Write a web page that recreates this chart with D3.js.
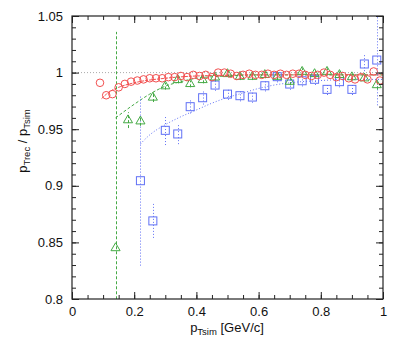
<!DOCTYPE html>
<html>
<head>
<meta charset="utf-8">
<script src="https://cdn.jsdelivr.net/npm/d3@7"></script>
<style>
  body { margin: 0; background: #fff; }
  text { font-family: "Liberation Sans", Arial, sans-serif; }
</style>
</head>
<body>
<div id="chart"></div>
<script>
// Ticks
const xTicks = [0, 0.2, 0.4, 0.6, 0.8, 1];
const yTicks = [0.8, 0.85, 0.9, 0.95, 1, 1.05];

// Red circles
const redX = [0.09, 0.11, 0.13, 0.15, 0.17, 0.19, 0.21, 0.23, 0.25, 0.27, 0.29, 0.31, 0.33, 0.35, 0.37, 0.39,
  0.41, 0.43, 0.45, 0.47, 0.49, 0.51, 0.53, 0.55, 0.57, 0.59, 0.61, 0.63, 0.65, 0.67, 0.69, 0.71, 0.73,
  0.75, 0.77, 0.79, 0.81, 0.83, 0.85, 0.87, 0.89, 0.91, 0.93, 0.95, 0.97, 0.99];
const redY = [0.991, 0.980, 0.981, 0.987, 0.990, 0.992, 0.993, 0.994, 0.995, 0.995, 0.995, 0.996, 0.996, 0.997, 0.996, 0.998,
  0.997, 0.998, 0.996, 1.000, 1.000, 0.999, 0.997, 0.998, 0.999, 0.998, 0.998, 0.999, 0.998, 0.999, 0.998, 0.999, 0.999,
  0.998, 0.997, 0.998, 1.000, 0.998, 0.996, 0.997, 0.995, 0.994, 0.996, 0.994, 1.001, 0.993];

// Green triangles
const greenX = [0.14, 0.18, 0.22, 0.26, 0.30, 0.34, 0.38, 0.42, 0.46, 0.50, 0.54, 0.58, 0.62, 0.66, 0.70, 0.74,
  0.78, 0.82, 0.86, 0.90, 0.94, 0.98];
const greenY = [0.845, 0.958, 0.957, 0.978, 0.988, 0.9935, 0.990, 0.9935, 0.9958, 0.9988, 0.9964, 0.9964, 0.998, 0.9964,
  0.992, 1.0008, 0.9988, 1.0008, 0.998, 0.996, 0.995, 0.989];
const greenErr = [0.191, 0.007, 0.004, 0.004, 0.003, 0.003, 0.003, 0.003, 0.003, 0.003, 0.003, 0.003, 0.003, 0.003,
  0.003, 0.003, 0.003, 0.003, 0.003, 0.003, 0.003, 0.004];

// Blue squares
const blueX = [0.22, 0.26, 0.30, 0.34, 0.38, 0.42, 0.46, 0.50, 0.54, 0.58, 0.62, 0.66, 0.70, 0.74, 0.78, 0.82,
  0.86, 0.90, 0.94, 0.98];
const blueY = [0.9045, 0.869, 0.949, 0.9458, 0.9699, 0.9778, 0.989, 0.981, 0.9796, 0.9784, 0.9884, 0.9964, 0.9899,
  0.9928, 0.9941, 0.9852, 0.992, 0.9852, 1.0076, 1.0111];
const blueErr = [0.075, 0.015, 0.013, 0.009, 0.006, 0.006, 0.005, 0.005, 0.005, 0.005, 0.005, 0.005, 0.005, 0.005,
  0.005, 0.005, 0.005, 0.005, 0.009, 0.04];

// Fit curves
const redFitX = [0.095, 0.12, 0.15, 0.2, 0.3, 0.4, 0.6, 0.8, 1.0];
const redFitY = [0.977, 0.983, 0.987, 0.991, 0.995, 0.997, 0.998, 0.998, 0.998];
const greenFitX = [0.14, 0.2, 0.25, 0.3, 0.35, 0.4, 0.5, 0.6, 0.8, 1.0];
const greenFitY = [0.960, 0.972, 0.981, 0.988, 0.992, 0.995, 0.997, 0.998, 0.998, 0.998];
const blueFitX = [0.22, 0.25, 0.3, 0.35, 0.4, 0.45, 0.5, 0.55, 0.6, 0.65, 0.7, 0.8, 0.9, 1.0];
const blueFitY = [0.937, 0.945, 0.954, 0.961, 0.967, 0.973, 0.978, 0.982, 0.986, 0.989, 0.991, 0.993, 0.994, 0.994];

const w = 407, h = 342;
const padL = 72, padR = 383, padT = 16, padB = 299;

const red = "#f25050", green = "#45aa45", blue = "#6070f5";

const svg = d3.select("#chart").append("svg")
    .attr("width", w)
    .attr("height", h);

const x = d3.scaleLinear().domain([0, 1]).range([padL, padR]);
const y = d3.scaleLinear().domain([0.8, 1.05]).range([padB, padT]);

svg.append("clipPath").attr("id", "clip")
    .append("rect")
    .attr("x", padL).attr("y", padT)
    .attr("width", padR - padL).attr("height", padB - padT);

const plot = svg.append("g").attr("clip-path", "url(#clip)");

// reference line at 1
plot.append("line")
    .attr("x1", x(0)).attr("x2", x(1))
    .attr("y1", y(1)).attr("y2", y(1))
    .attr("stroke", "#aaa")
    .attr("stroke-dasharray", "1,2");

const line = d3.line().curve(d3.curveMonotoneX).x(d => x(d[0])).y(d => y(d[1]));

// fits
plot.append("path")
    .datum(d3.zip(blueFitX, blueFitY))
    .attr("fill", "none").attr("stroke", blue)
    .attr("stroke-dasharray", "1,2")
    .attr("d", line);
plot.append("path")
    .datum(d3.zip(greenFitX, greenFitY))
    .attr("fill", "none").attr("stroke", green)
    .attr("stroke-dasharray", "3,2")
    .attr("d", line);
plot.append("path")
    .datum(d3.zip(redFitX, redFitY))
    .attr("fill", "none").attr("stroke", red)
    .attr("stroke-dasharray", "3,1")
    .attr("d", line);

// error bars
function errBars(xs, ys, es, color, dash) {
    plot.selectAll(null)
        .data(d3.zip(xs, ys, es))
        .enter()
        .append("line")
        .attr("x1", d => Math.round(x(d[0])) + 0.5).attr("x2", d => Math.round(x(d[0])) + 0.5)
        .attr("y1", d => y(d[1] - d[2])).attr("y2", d => y(d[1] + d[2]))
        .attr("stroke", color)
        .attr("stroke-dasharray", dash);
}
errBars(blueX, blueY, blueErr, blue, "1,2");
errBars(greenX, greenY, greenErr, green, "3,2");

// blue squares
plot.selectAll(null)
    .data(d3.zip(blueX, blueY))
    .enter()
    .append("rect")
    .attr("x", d => x(d[0]) - 4).attr("y", d => y(d[1]) - 4)
    .attr("width", 8).attr("height", 8)
    .attr("fill", "none").attr("stroke", blue);

// green triangles
plot.selectAll(null)
    .data(d3.zip(greenX, greenY))
    .enter()
    .append("path")
    .attr("transform", d => "translate(" + x(d[0]) + "," + y(d[1]) + ")")
    .attr("d", d3.symbol(d3.symbolTriangle, 36))
    .attr("fill", "none").attr("stroke", green);

// red circles
plot.selectAll(null)
    .data(d3.zip(redX, redY))
    .enter()
    .append("circle")
    .attr("cx", d => x(d[0])).attr("cy", d => y(d[1]))
    .attr("r", 3.8)
    .attr("fill", "none").attr("stroke", red);

// frame and ticks
svg.append("rect")
    .attr("x", padL).attr("y", padT)
    .attr("width", padR - padL).attr("height", padB - padT)
    .attr("fill", "none").attr("stroke", "#222").attr("stroke-width", 1.2);

function drawAxis(axis, tr, ticks, size, labels) {
    const g = svg.append("g")
        .attr("transform", tr)
        .call(axis.tickValues(ticks).tickSize(size).tickSizeOuter(0).tickFormat(labels ? (d => String(+d.toFixed(2))) : ""));
    g.select(".domain").remove();
    g.selectAll("line").attr("stroke", "#222");
    g.selectAll("text")
        .style("font-size", "13px")
        .attr("fill", "#111");
    return g;
}
const xMinor = x.ticks(20), yMinor = y.ticks(25);

// bottom
const gb = drawAxis(d3.axisBottom(x), "translate(0," + padB + ")", xTicks, -7, true);
gb.selectAll("text").attr("y", 8).attr("dy", "0.71em");
drawAxis(d3.axisBottom(x), "translate(0," + padB + ")", xMinor, -4, false);
// top
drawAxis(d3.axisTop(x), "translate(0," + padT + ")", xTicks, -7, false);
drawAxis(d3.axisTop(x), "translate(0," + padT + ")", xMinor, -4, false);
// left
const gl = drawAxis(d3.axisLeft(y), "translate(" + padL + ",0)", yTicks, -7, true);
gl.selectAll("text").attr("x", -9);
drawAxis(d3.axisLeft(y), "translate(" + padL + ",0)", yMinor, -4, false);
// right
drawAxis(d3.axisRight(y), "translate(" + padR + ",0)", yTicks, -7, false);
drawAxis(d3.axisRight(y), "translate(" + padR + ",0)", yMinor, -4, false);

// axis titles
const xt = svg.append("text")
    .attr("x", 227).attr("y", 332)
    .attr("text-anchor", "middle")
    .style("font-size", "13px")
    .attr("fill", "#111");
xt.append("tspan").text("p");
xt.append("tspan").attr("dy", 3).style("font-size", "9.5px").text("Tsim");
xt.append("tspan").attr("dy", -3).text(" [GeV/c]");

const yt = svg.append("text")
    .attr("transform", "translate(27,141) rotate(-90)")
    .attr("text-anchor", "middle")
    .style("font-size", "13px")
    .attr("fill", "#111");
yt.append("tspan").text("p");
yt.append("tspan").attr("dy", 3).style("font-size", "9.5px").text("Trec");
yt.append("tspan").attr("dy", -3).text(" / p");
yt.append("tspan").attr("dy", 3).style("font-size", "9.5px").text("Tsim");
</script>
</body>
</html>
